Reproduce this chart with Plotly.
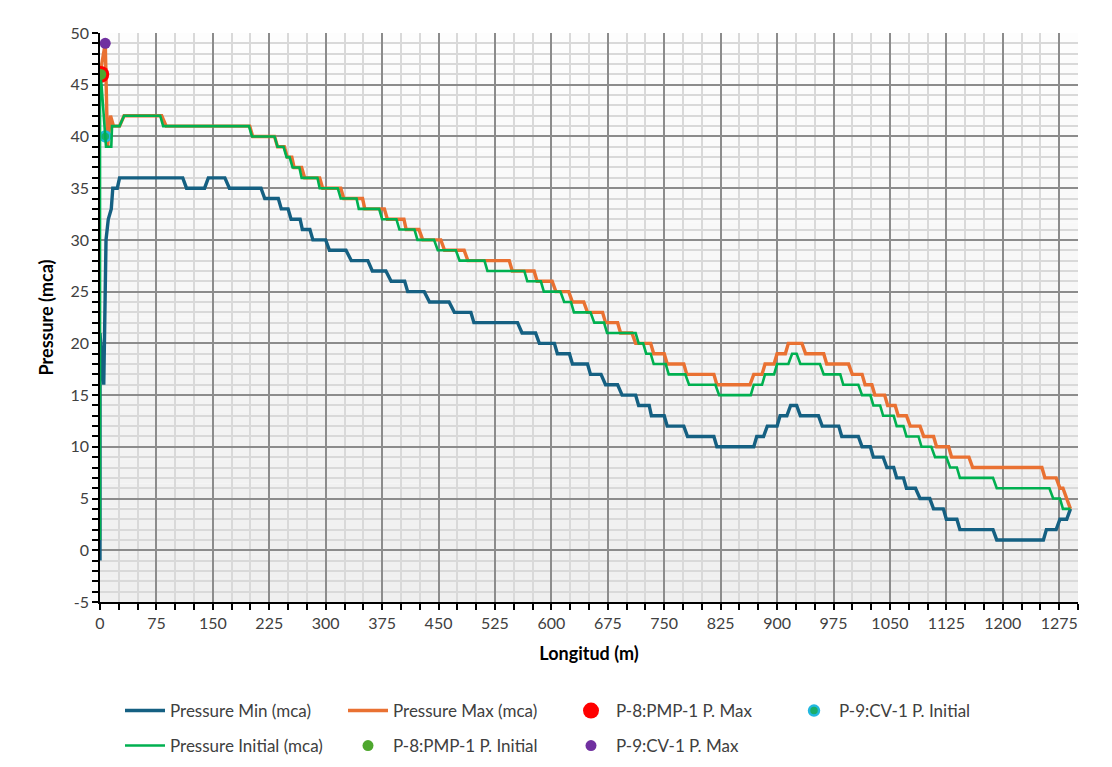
import plotly.graph_objects as go

# Pressure envelope along the pipeline (distance in m, pressure in mca)
dist_min = [0, 0, 5, 8, 11, 15, 17, 23, 26, 110,
            115, 139, 144, 166, 172, 214, 219, 237, 241, 250,
            254, 266, 269, 279, 283, 300, 305, 327, 334, 356,
            362, 380, 387, 405, 409, 431, 438, 464, 471, 493,
            497, 555, 561, 579, 584, 604, 608, 624, 628, 648,
            652, 666, 672, 688, 694, 712, 716, 730, 733, 750,
            754, 776, 781, 816, 820, 869, 873, 882, 887, 900,
            904, 913, 918, 926, 931, 955, 960, 982, 986, 1008,
            1013, 1024, 1028, 1041, 1046, 1055, 1059, 1068, 1072, 1084,
            1090, 1103, 1108, 1121, 1125, 1139, 1143, 1187, 1192, 1254,
            1258, 1271, 1276, 1285, 1290]
pres_min = [-1, 21, 16, 30, 32, 33, 35, 35, 36, 36,
            35, 35, 36, 36, 35, 35, 34, 34, 33, 33,
            32, 32, 31, 31, 30, 30, 29, 29, 28, 28,
            27, 27, 26, 26, 25, 25, 24, 24, 23, 23,
            22, 22, 21, 21, 20, 20, 19, 19, 18, 18,
            17, 17, 16, 16, 15, 15, 14, 14, 13, 13,
            12, 12, 11, 11, 10, 10, 11, 11, 12, 12,
            13, 13, 14, 14, 13, 13, 12, 12, 11, 11,
            10, 10, 9, 9, 8, 8, 7, 7, 6, 6,
            5, 5, 4, 4, 3, 3, 2, 2, 1, 1,
            2, 2, 3, 3, 4]

dist_max = [0, 7, 10, 14, 18, 26, 32, 82, 88,
            199, 203, 232, 236, 245, 249, 255, 258, 268, 272,
            292, 296, 320, 324, 349, 352, 378, 382, 404, 407,
            424, 429, 453, 458, 484, 489, 544, 548, 577, 581,
            601, 606, 623, 628, 643, 648, 668, 672, 688, 692,
            707, 712, 732, 736, 750, 754, 776, 780, 816, 820,
            864, 869, 880, 884, 896, 900, 911, 915, 933, 938,
            962, 966, 995, 1000, 1013, 1017, 1026, 1030, 1043, 1047,
            1057, 1061, 1072, 1077, 1090, 1095, 1108, 1112, 1128, 1132,
            1155, 1160, 1252, 1256, 1271, 1276, 1280, 1285, 1290]
pres_max = [46, 49, 39, 42, 41, 41, 42, 42, 41,
            41, 40, 40, 39, 39, 38, 38, 37, 37, 36,
            36, 35, 35, 34, 34, 33, 33, 32, 32, 31,
            31, 30, 30, 29, 29, 28, 28, 27, 27, 26,
            26, 25, 25, 24, 24, 23, 23, 22, 22, 21,
            21, 20, 20, 19, 19, 18, 18, 17, 17, 16,
            16, 17, 17, 18, 18, 19, 19, 20, 20, 19,
            19, 18, 18, 17, 17, 16, 16, 15, 15, 14,
            14, 13, 13, 12, 12, 11, 11, 10, 10, 9,
            9, 8, 8, 7, 7, 6, 6, 5, 4]

dist_ini = [0, 0, 2, 7, 8, 15, 16, 26, 32, 80,
            84, 198, 202, 232, 236, 244, 248, 252, 256, 265,
            268, 289, 292, 316, 320, 341, 344, 371, 375, 394,
            398, 418, 422, 444, 449, 473, 478, 511, 515, 564,
            568, 586, 590, 612, 617, 626, 630, 652, 657, 670,
            674, 712, 716, 722, 726, 732, 736, 752, 756, 778,
            783, 818, 823, 865, 869, 880, 884, 896, 900, 915,
            920, 926, 931, 957, 962, 984, 988, 1008, 1013, 1024,
            1028, 1037, 1041, 1055, 1059, 1068, 1072, 1088, 1092, 1105,
            1110, 1125, 1130, 1139, 1143, 1187, 1192, 1262, 1267, 1276,
            1280, 1290]
pres_ini = [1, 46, 45, 40, 39, 39, 41, 41, 42, 42,
            41, 41, 40, 40, 39, 39, 38, 38, 37, 37,
            36, 36, 35, 35, 34, 34, 33, 33, 32, 32,
            31, 31, 30, 30, 29, 29, 28, 28, 27, 27,
            26, 26, 25, 25, 24, 24, 23, 23, 22, 22,
            21, 21, 20, 20, 19, 19, 18, 18, 17, 17,
            16, 16, 15, 15, 16, 16, 17, 17, 18, 18,
            19, 19, 18, 18, 17, 17, 16, 16, 15, 15,
            14, 14, 13, 13, 12, 12, 11, 11, 10, 10,
            9, 9, 8, 8, 7, 7, 6, 6, 5, 5,
            4, 4]

assert len(dist_min) == len(pres_min)
assert len(dist_max) == len(pres_max)
assert len(dist_ini) == len(pres_ini)

# Element results (distance, pressure)
p8_max = (1, 46)
p8_ini = (1, 46)
p9_max = (7, 49)
p9_ini = (7, 40)

# Axis ticks
y_ticks = list(range(-5, 51, 5))
y_tick_text = [str(v) for v in y_ticks]

FONT = "Lato"
TXT = "#404040"

fig = go.Figure()

fig.add_trace(go.Scatter(x=dist_min, y=pres_min, mode="lines", name="Pressure Min (mca)",
                         line=dict(color="#156082", width=3.4), legend="legend"))
fig.add_trace(go.Scatter(x=dist_max, y=pres_max, mode="lines", name="Pressure Max (mca)",
                         line=dict(color="#E97132", width=3.4), legend="legend"))
fig.add_trace(go.Scatter(x=[p8_max[0]], y=[p8_max[1]], mode="markers", name="P-8:PMP-1 P. Max",
                         marker=dict(color="#FF0000", size=17), legend="legend"))
fig.add_trace(go.Scatter(x=[p9_ini[0]], y=[p9_ini[1]], mode="markers", name="P-9:CV-1 P. Initial",
                         marker=dict(color="#1AAE6A", size=10, line=dict(color="#22B8E0", width=2.5)),
                         legend="legend"))
fig.add_trace(go.Scatter(x=dist_ini, y=pres_ini, mode="lines", name="Pressure Initial (mca)",
                         line=dict(color="#00B050", width=2.6), legend="legend2"))
fig.add_trace(go.Scatter(x=[p8_ini[0]], y=[p8_ini[1]], mode="markers", name="P-8:PMP-1 P. Initial",
                         marker=dict(color="#4EA72E", size=11), legend="legend2"))
fig.add_trace(go.Scatter(x=[p9_max[0]], y=[p9_max[1]], mode="markers", name="P-9:CV-1 P. Max",
                         marker=dict(color="#7030A0", size=11), legend="legend2"))

# Soft vertical gradient in the plot area
n_bands = 24
top_rgb = (253, 253, 253)
bot_rgb = (239, 239, 239)
shapes = []
for i in range(n_bands):
    t = i / (n_bands - 1)
    c = tuple(round(bot_rgb[k] + (top_rgb[k] - bot_rgb[k]) * t) for k in range(3))
    shapes.append(dict(type="rect", xref="paper", yref="paper", layer="below",
                       x0=0, x1=1, y0=i / n_bands, y1=(i + 1) / n_bands,
                       fillcolor=f"rgb{c}", line=dict(width=0)))

axis_common = dict(
    showline=True, linecolor="#000000", linewidth=1.5,
    ticks="outside", ticklen=6, tickcolor="#000000", tickwidth=1.5,
    showgrid=True, gridcolor="#8C8C8C", gridwidth=2,
    zeroline=False,
    tickfont=dict(family=FONT, size=16, color=TXT),
)

legend_common = dict(orientation="h", xref="container", yref="container",
                     xanchor="left", yanchor="middle", entrywidth=168, entrywidthmode="pixels",
                     font=dict(family=FONT, size=17, color=TXT), bgcolor="rgba(0,0,0,0)",
                     itemwidth=40)

fig.update_layout(
    width=1112, height=767,
    margin=dict(l=100, r=34, t=33, b=165),
    paper_bgcolor="#FFFFFF", plot_bgcolor="rgba(0,0,0,0)",
    font=dict(family=FONT, color=TXT),
    shapes=shapes,
    xaxis=dict(range=[0, 1300], tick0=0, dtick=75,
               minor=dict(dtick=25, showgrid=True, gridcolor="#D9D9D9", gridwidth=2,
                          ticks="outside", ticklen=6, tickcolor="#000000", tickwidth=1.5),
               title=dict(text="<b>Longitud (m)</b>", font=dict(family=FONT, size=18, color="#000000"),
                          standoff=16),
               **axis_common),
    yaxis=dict(range=[-5, 50], tickmode="array", tickvals=y_ticks, ticktext=y_tick_text,
               minor=dict(dtick=1, tick0=0, showgrid=True, gridcolor="#D9D9D9", gridwidth=2,
                          ticks="outside", ticklen=6, tickcolor="#000000", tickwidth=1.5),
               title=dict(text="<b>Pressure (mca)</b>", font=dict(family=FONT, size=18, color="#000000"),
                          standoff=12),
               **axis_common),
    legend=dict(x=120 / 1112, y=1 - 711 / 767, **legend_common),
    legend2=dict(x=120 / 1112, y=1 - 746 / 767, **legend_common),
    showlegend=True,
)

fig.write_html("out.html")
